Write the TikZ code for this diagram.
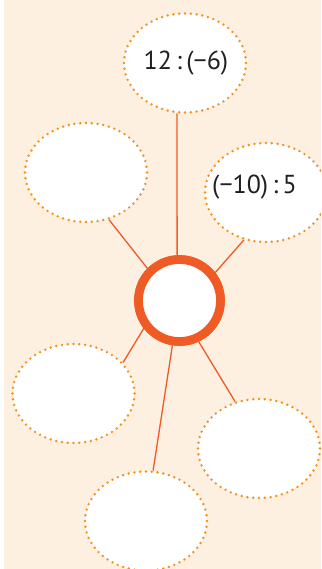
\documentclass[tikz,border=0pt]{standalone}
\usepackage{fontspec}
\setmainfont{PT Sans}
\usetikzlibrary{shapes.geometric}
\definecolor{bgcream}{HTML}{FDF0E1}
\definecolor{dotorange}{HTML}{F5901C}
\definecolor{ringorange}{HTML}{F05A24}
\definecolor{txt}{HTML}{231F20}
\tikzset{
  bubble/.style={ellipse, draw=dotorange, fill=white, line width=2.7pt,
    dash pattern=on 0pt off 5.8pt, line cap=round,
    minimum width=122pt, minimum height=99pt, inner sep=0pt},
  hub/.style={circle, draw=ringorange, fill=white, line width=8.7pt,
    minimum size=82pt, inner sep=0pt},
  spoke/.style={draw=ringorange, line width=1.3pt},
  label/.style={text=txt, font=\fontsize{26}{26}\selectfont, inner sep=0pt}
}
\begin{document}
\begin{tikzpicture}[x=1pt,y=-1pt]
\useasboundingbox (0,0) rectangle (321,569);
\fill[bgcream] (4,0) rectangle (321,569);
\begin{scope}
\clip (0,0) rectangle (321,569);
\node[bubble] (top) at (185,63) {};
\node[bubble] (tl) at (86,172.5) {};
\node[bubble] (rt) at (266,192.5) {};
\node[bubble] (bl) at (73.5,393.5) {};
\node[bubble] (br) at (259,448.5) {};
\node[bubble] (bot) at (146,521) {};
\node[hub] (c) at (179.5,300.5) {};
\path[spoke] (top.261) -- (c.93);
\path[spoke] (tl.-64) -- (c.135);
\path[spoke] (rt.-115) -- (c.38);
\path[spoke] (bl.32) -- (c.218);
\path[spoke] (bot.82) -- (c.261);
\path[spoke] (br.117) -- (c.295);
\node[hub] at (179.5,300.5) {};
\node[label] (t1) at (186,63) {12\,:\,(−6)};
\node[label] (t2) at (254.5,187) {(−10)\,:\,5};
\end{scope}
\end{tikzpicture}
\end{document}
